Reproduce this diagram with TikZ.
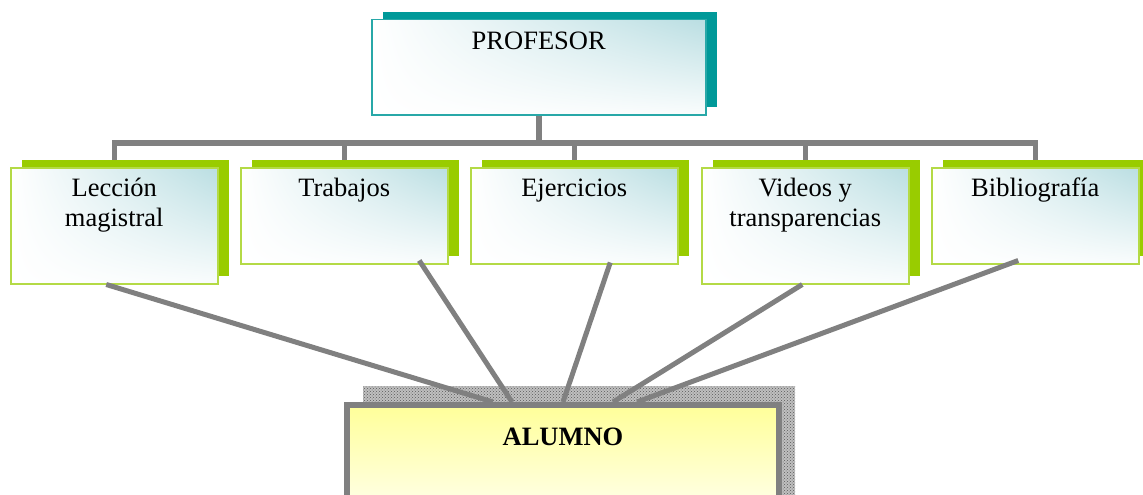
\documentclass[tikz,border=0pt]{standalone}
\usepackage{fontspec}
\setmainfont{Liberation Serif}
\usetikzlibrary{shadows,shadings,patterns,backgrounds}
\definecolor{tealshadow}{RGB}{0,153,153}
\definecolor{tealline}{RGB}{40,168,168}
\definecolor{limeshadow}{RGB}{153,204,0}
\definecolor{limeline}{RGB}{180,218,70}
\definecolor{boxtint}{RGB}{186,222,226}
\definecolor{linkgray}{RGB}{128,128,128}
\definecolor{alumnotop}{RGB}{255,255,153}
\tikzset{
	tarea/.style={
			shade, upper left=white, lower left=white, lower right=boxtint!8, upper right=boxtint,
			draw=limeline, line width=1.5pt, minimum width=207pt, inner sep=0pt, align=center,
			text height=29pt, text depth=67pt, anchor=north west,
			drop shadow={opacity=1, fill=limeshadow, shadow xshift=11pt, shadow yshift=8pt}},
	doble/.style={text height=59pt, text depth=57pt},
	jefe/.style={
			shade, upper left=white, lower left=white, lower right=boxtint!8, upper right=boxtint,
			draw=tealline, line width=1.5pt, minimum width=334pt, inner sep=0pt,
			text height=30pt, text depth=65pt, anchor=north west,
			drop shadow={opacity=1, fill=tealshadow, shadow xshift=11pt, shadow yshift=8pt}},
	alumnobox/.style={
			top color=alumnotop, bottom color=yellow!4, draw=linkgray, line width=6pt,
			minimum width=432pt, inner sep=0pt, text height=40pt, text depth=80pt,
			anchor=north, font=\fontsize{26.5}{30}\selectfont\bfseries,
			general shadow={fill=gray!50, shadow xshift=16pt, shadow yshift=19pt},
			general shadow={pattern=crosshatch dots, pattern color=black!65, shadow xshift=16pt, shadow yshift=19pt}},
	bus/.style={draw=linkgray, line width=5.5pt},
	link/.style={draw=linkgray, line width=5pt}
}

\begin{document}
\begin{tikzpicture}[x=1pt,y=-1pt,font=\fontsize{26.5}{30}\selectfont]
		\useasboundingbox (0,0) rectangle (1143,495);
		\node[jefe] (profesor) at (371,19) {PROFESOR};
		\node[tarea, doble] (leccion) at (10,167) {Lección\\magistral};
		\node[tarea] (trabajos) at (240,167) {Trabajos};
		\node[tarea] (ejercicios) at (470,167) {Ejercicios};
		\node[tarea, doble] (videos) at (701,167) {Videos y\\transparencias};
		\node[tarea] (biblio) at (931,167) {Bibliografía};
		\node[alumnobox] (alumno) at (563,402) {ALUMNO};
		% organigrama
		\begin{pgfonlayer}{background}
			\draw[bus] (profesor.south) -- ++(0,27.5) coordinate (reparto);
			\foreach \m in {leccion,trabajos,ejercicios,videos,biblio}
			\draw[bus] (reparto) -| (\m.north);
		\end{pgfonlayer}
		% hacia el alumno
		\draw[link] ([xshift=-8pt]leccion.south) -- ([xshift=-70pt]alumno.north);
		\draw[link] ([xshift=75pt,yshift=4pt]trabajos.south) -- ([xshift=-51pt]alumno.north);
		\draw[link] ([xshift=36pt,yshift=2pt]ejercicios.south) -- (alumno.north);
		\draw[link] ([xshift=-3pt]videos.south) -- ([xshift=50pt]alumno.north);
		\draw[link] ([xshift=-17pt,yshift=4pt]biblio.south) -- ([xshift=74pt]alumno.north);
	\end{tikzpicture}
\end{document}
